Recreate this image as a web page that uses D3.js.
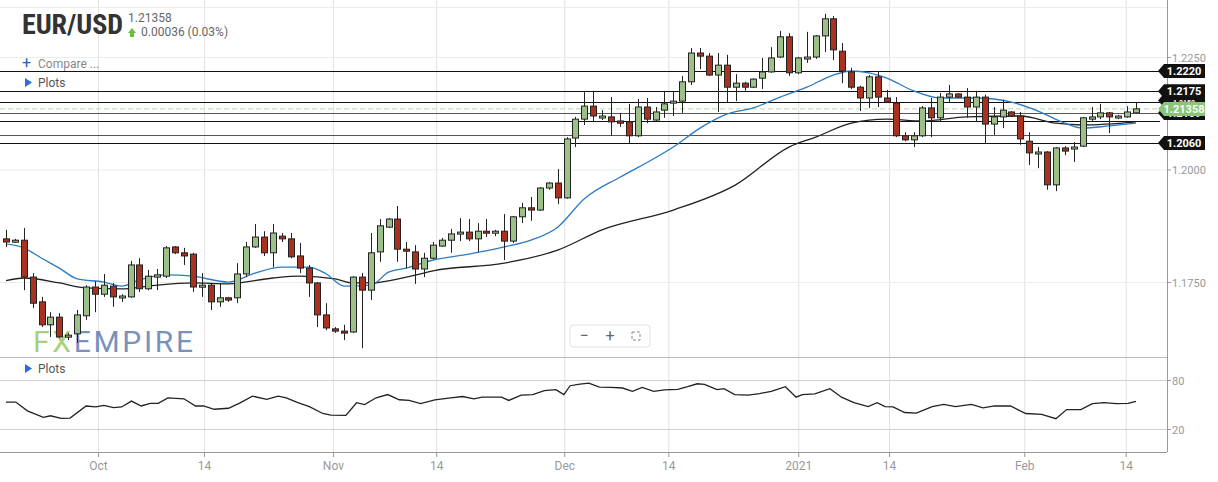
<!DOCTYPE html>
<html><head><meta charset="utf-8">
<script src="https://cdn.jsdelivr.net/npm/d3@7"></script>
<style>body{margin:0;background:#fff;font-family:Roboto,Arial,sans-serif}</style>
</head><body><svg id="c" width="1218" height="482"></svg>
<script>
const opens=[1.1847,1.1840,1.1844,1.1762,1.1707,1.1656,1.1673,1.1629,1.1636,1.1676,1.1740,1.1724,1.1742,1.1716,1.1718,1.1789,1.1736,1.1762,1.1764,1.1829,1.1816,1.1813,1.1740,1.1744,1.1707,1.1716,1.1716,1.1769,1.1829,1.1851,1.1816,1.1853,1.1847,1.1809,1.1782,1.1749,1.1678,1.1647,1.1642,1.1640,1.1762,1.1733,1.1818,1.1873,1.1891,1.1824,1.1818,1.1780,1.1804,1.1831,1.1844,1.1858,1.1862,1.1847,1.1864,1.1860,1.1864,1.1842,1.1896,1.1916,1.1911,1.1960,1.1971,1.1938,1.2071,1.2113,1.2142,1.2116,1.2118,1.2109,1.2107,1.2076,1.2140,1.2111,1.2133,1.2149,1.2153,1.2196,1.2260,1.2253,1.2211,1.2233,1.2184,1.2193,1.2184,1.2204,1.2218,1.2251,1.2296,1.2216,1.2247,1.2251,1.2298,1.2336,1.2264,1.2218,1.2184,1.2160,1.2207,1.2160,1.2149,1.2076,1.2067,1.2076,1.2138,1.2116,1.2162,1.2169,1.2162,1.2140,1.2162,1.2102,1.2118,1.2129,1.2120,1.2064,1.2036,1.2040,1.1967,1.2049,1.2047,1.2053,1.2113,1.2118,1.2127,1.2116,1.2118,1.2127];
const highs=[1.1867,1.1847,1.1871,1.1771,1.1718,1.1684,1.1682,1.1638,1.1689,1.1744,1.1753,1.1769,1.1749,1.1724,1.1798,1.1804,1.1778,1.1780,1.1831,1.1831,1.1827,1.1816,1.1771,1.1749,1.1747,1.1718,1.1793,1.1840,1.1880,1.1864,1.1880,1.1860,1.1860,1.1838,1.1789,1.1751,1.1704,1.1651,1.1656,1.1764,1.1771,1.1860,1.1891,1.1893,1.1920,1.1840,1.1833,1.1816,1.1840,1.1849,1.1869,1.1893,1.1891,1.1882,1.1891,1.1867,1.1902,1.1898,1.1927,1.1940,1.1962,1.1973,1.2002,1.2073,1.2118,1.2173,1.2176,1.2133,1.2162,1.2127,1.2147,1.2158,1.2160,1.2140,1.2176,1.2173,1.2209,1.2271,1.2271,1.2260,1.2260,1.2256,1.2213,1.2196,1.2204,1.2249,1.2273,1.2309,1.2304,1.2251,1.2307,1.2300,1.2347,1.2342,1.2282,1.2227,1.2187,1.2211,1.2220,1.2178,1.2162,1.2084,1.2084,1.2142,1.2160,1.2171,1.2189,1.2171,1.2182,1.2176,1.2167,1.2140,1.2156,1.2131,1.2129,1.2084,1.2051,1.2042,1.2051,1.2053,1.2062,1.2118,1.2140,1.2147,1.2129,1.2122,1.2142,1.2149];
const lows=[1.1829,1.1838,1.1733,1.1693,1.1651,1.1629,1.1627,1.1622,1.1616,1.1667,1.1684,1.1718,1.1696,1.1707,1.1716,1.1729,1.1733,1.1733,1.1760,1.1813,1.1789,1.1729,1.1718,1.1689,1.1696,1.1707,1.1704,1.1762,1.1827,1.1809,1.1784,1.1840,1.1804,1.1771,1.1718,1.1651,1.1644,1.1638,1.1622,1.1638,1.1604,1.1711,1.1796,1.1871,1.1796,1.1782,1.1747,1.1762,1.1802,1.1829,1.1816,1.1842,1.1842,1.1818,1.1851,1.1853,1.1800,1.1838,1.1882,1.1887,1.1909,1.1956,1.1924,1.1936,1.2051,1.2100,1.2107,1.2111,1.2076,1.2096,1.2060,1.2073,1.2104,1.2109,1.2116,1.2120,1.2127,1.2189,1.2224,1.2209,1.2129,1.2151,1.2153,1.2176,1.2182,1.2180,1.2216,1.2249,1.2209,1.2213,1.2238,1.2247,1.2262,1.2244,1.2193,1.2180,1.2131,1.2138,1.2140,1.2149,1.2073,1.2064,1.2051,1.2073,1.2073,1.2107,1.2149,1.2160,1.2116,1.2107,1.2058,1.2078,1.2093,1.2118,1.2056,1.2011,1.2004,1.1956,1.1953,1.2033,1.2018,1.2051,1.2109,1.2113,1.2082,1.2113,1.2116,1.2125];
const closes=[1.1840,1.1844,1.1762,1.1704,1.1656,1.1673,1.1629,1.1633,1.1678,1.1740,1.1724,1.1744,1.1718,1.1720,1.1789,1.1736,1.1764,1.1767,1.1827,1.1816,1.1809,1.1740,1.1744,1.1707,1.1716,1.1711,1.1769,1.1829,1.1851,1.1816,1.1860,1.1847,1.1807,1.1782,1.1749,1.1678,1.1649,1.1642,1.1638,1.1762,1.1733,1.1816,1.1876,1.1891,1.1824,1.1820,1.1780,1.1804,1.1833,1.1844,1.1858,1.1862,1.1847,1.1864,1.1860,1.1864,1.1842,1.1896,1.1916,1.1911,1.1960,1.1971,1.1938,1.2069,1.2113,1.2142,1.2120,1.2120,1.2107,1.2104,1.2076,1.2140,1.2113,1.2129,1.2147,1.2153,1.2196,1.2260,1.2253,1.2211,1.2233,1.2184,1.2193,1.2184,1.2202,1.2218,1.2249,1.2296,1.2216,1.2249,1.2251,1.2298,1.2336,1.2267,1.2220,1.2184,1.2160,1.2207,1.2162,1.2151,1.2076,1.2067,1.2076,1.2138,1.2116,1.2162,1.2169,1.2162,1.2140,1.2162,1.2102,1.2118,1.2133,1.2120,1.2069,1.2038,1.2040,1.1967,1.2049,1.2042,1.2051,1.2116,1.2118,1.2127,1.2118,1.2120,1.2129,1.21358];
const ma20Idx=[0,2,4,6,8,11,13,15,18,21,25,28,31,34,36,38,41,43,45,48,52,56,59,62,65,69,72,75,78,81,84,87,90,93,95,97,99,102,105,109,113,116,119,121,124,127];
const ma20Val=[1.1836,1.1827,1.1804,1.1782,1.1758,1.1751,1.1742,1.1756,1.1767,1.1764,1.1751,1.1771,1.1784,1.1784,1.1769,1.1742,1.1744,1.1773,1.1782,1.1800,1.1813,1.1829,1.1844,1.1873,1.1936,1.1984,1.2016,1.2051,1.2093,1.2124,1.2138,1.2162,1.2184,1.2211,1.2220,1.2216,1.2204,1.2176,1.2160,1.2160,1.2151,1.2131,1.2104,1.2093,1.2098,1.2104];
const ma50Idx=[0,2,6,9,13,16,21,25,30,33,37,39,41,45,48,56,62,67,75,82,88,91,95,99,103,108,114,118,121,127];
const ma50Val=[1.1754,1.1760,1.1749,1.1738,1.1736,1.1742,1.1749,1.1747,1.1760,1.1764,1.1758,1.1749,1.1749,1.1762,1.1776,1.1793,1.1822,1.1867,1.1911,1.1967,1.2051,1.2073,1.2104,1.2113,1.2109,1.2118,1.2120,1.2104,1.2100,1.2107];
const rsiIdx=[0,1.1,2.4,4.2,5,6.2,7.2,9,10.1,11,12.1,13,14.1,15.2,16.2,17.1,18.2,20,21.3,22.2,23.4,25,26.2,27.7,29.3,30.6,31.5,32.8,34.1,35.6,36.5,38.2,39.4,40.3,41.6,42.9,44.2,45.3,46.6,48.2,50,51.3,52.6,53.5,55.7,56.5,57.9,59.2,60.5,61.8,62.7,63.4,64.5,65.5,66.7,68,69.3,70.4,71.5,72.8,74,75.5,76.6,77.7,78.5,79.9,80.7,81.9,83.4,84.7,86,87.6,88.8,89.5,90.9,92.6,93.9,95.3,96.9,97.9,98.8,99.7,101,102.3,104.1,105.4,106.7,108.5,109.8,111.1,112.9,114.6,116.4,118,119.2,120.8,122.1,123.4,124.8,126.1,127];
const rsiVal=[53.6,53.6,42.8,34.8,36.8,33.6,34,48.8,47.6,49.6,46.8,47.6,54.8,48.8,52,52,58.8,57.6,48.8,48.8,44.8,46,52,60.8,56.8,60.8,58.8,52.8,48,39.6,37.6,37.2,52.8,50.4,58.8,62.8,56.4,55.6,51.6,56.4,58.8,60.4,57.6,59.6,59.6,55.6,62,62.8,67.6,68.8,62.8,73.6,75.6,76.8,72,71.6,70.8,66.8,71.6,66.8,68.4,69.2,72.4,76,75.2,68.8,70,62.8,62,64,66.8,72.4,59.6,62.8,63.6,70,59.6,52.8,48,52.8,48,47.6,40.8,40,48,50.8,48,50.8,46.4,48.8,48.8,39.6,38.4,33.2,44.4,44.4,51.6,52.8,51.6,52,54.4];
const levels=[1.2220,1.2175,1.2150,1.2127,1.2109,1.2078,1.2060];
const levelLabels=[[1.2220,"1.2220",0],[1.2175,"1.2175",0],[1.2109,"1.2109",-8],[1.2060,"1.2060",0]];
const lastPrice=1.21358;
const priceTicks=[1.2250,1.2000,1.1750];
const rsiTicks=[80,20];
const dateTickIdx=[10.4,22.3,36.8,48.4,62.8,74.5,89.1,99.3,114.5,125.9];
const dateTickLabels=["Oct","14","Nov","14","Dec","14","2021","14","Feb","14"];

const svg=d3.select("#c");
const x=d3.scaleLinear().domain([0,127]).range([6,1136]);
const y=d3.scaleLinear().domain([1.175,1.225]).range([282.5,57.5]);
const yr=d3.scaleLinear().domain([20,80]).range([429.5,380.5]);
const W=1167;
const g=svg.append("g");
dateTickIdx.forEach(d=>{g.append("line").attr("x1",x(d)).attr("x2",x(d)).attr("y1",0).attr("y2",452).attr("stroke","#e2e2e2");});
priceTicks.forEach(p=>g.append("line").attr("x1",0).attr("x2",W).attr("y1",y(p)).attr("y2",y(p)).attr("stroke","#ececec"));
rsiTicks.forEach(p=>g.append("line").attr("x1",0).attr("x2",W).attr("y1",yr(p)).attr("y2",yr(p)).attr("stroke","#cfcfcf"));
g.append("line").attr("x1",0).attr("x2",W).attr("y1",7.5).attr("y2",7.5).attr("stroke","#ececec");
g.append("line").attr("x1",0).attr("x2",W).attr("y1",357.5).attr("y2",357.5).attr("stroke","#bbb");
g.append("line").attr("x1",0).attr("x2",W).attr("y1",452.5).attr("y2",452.5).attr("stroke","#999");
g.append("line").attr("x1",W+.5).attr("x2",W+.5).attr("y1",0).attr("y2",452).attr("stroke","#999");

const wm=svg.append("text").attr("x",33).attr("y",352).attr("font-size",30).attr("font-family","Roboto, Arial").attr("textLength",160).attr("opacity",0.75);
wm.append("tspan").attr("fill","#8cc152").text("FX");
wm.append("tspan").attr("fill","#4a6ea8").text("EMPIRE");

levels.forEach(l=>svg.append("line").attr("x1",0).attr("x2",1160).attr("y1",Math.round(y(l))+.5).attr("y2",Math.round(y(l))+.5).attr("stroke",l===1.2127||l===1.2078?"#555":"#111").attr("stroke-width",1.2));
svg.append("line").attr("x1",0).attr("x2",1160).attr("y1",y(lastPrice)).attr("y2",y(lastPrice)).attr("stroke","#b9d6ad").attr("stroke-dasharray","5,3");

const line=d3.line().curve(d3.curveMonotoneX);
svg.append("path").attr("d",line(ma50Idx.map((d,i)=>[x(d),y(ma50Val[i])]))).attr("fill","none").attr("stroke","#222").attr("stroke-width",1.3);
svg.append("path").attr("d",line(ma20Idx.map((d,i)=>[x(d),y(ma20Val[i])]))).attr("fill","none").attr("stroke","#2a7bc4").attr("stroke-width",1.3);

const cg=svg.append("g");
opens.forEach((o,i)=>{
  const c=closes[i],cx=Math.round(x(i))+.5,up=c>=o;
  cg.append("line").attr("x1",cx).attr("x2",cx).attr("y1",y(highs[i])).attr("y2",y(lows[i])).attr("stroke","#222");
  const t=y(Math.max(o,c)),b=y(Math.min(o,c));
  cg.append("rect").attr("x",cx-3).attr("y",t).attr("width",6).attr("height",Math.max(2,b-t)).attr("fill",up?"#9dc08b":"#a8321f").attr("stroke","#222").attr("stroke-width",1);
});

svg.append("path").attr("d",d3.line()(rsiIdx.map((d,i)=>[x(d),yr(rsiVal[i])]))).attr("fill","none").attr("stroke","#222").attr("stroke-width",1.3);

priceTicks.forEach(p=>{svg.append("line").attr("x1",W).attr("x2",W+4).attr("y1",y(p)).attr("y2",y(p)).attr("stroke","#999");
 svg.append("text").attr("x",1172).attr("y",y(p)+4).attr("font-size",11).attr("fill","#999").text(p.toFixed(4));});
rsiTicks.forEach(p=>{svg.append("line").attr("x1",W).attr("x2",W+4).attr("y1",yr(p)).attr("y2",yr(p)).attr("stroke","#999");
 svg.append("text").attr("x",1172).attr("y",yr(p)+4).attr("font-size",11).attr("fill","#999").text(p);});
dateTickIdx.forEach((d,i)=>{svg.append("line").attr("x1",x(d)).attr("x2",x(d)).attr("y1",452).attr("y2",457).attr("stroke","#999");
 svg.append("text").attr("x",x(d)).attr("y",470).attr("text-anchor","middle").attr("font-size",12).attr("fill","#999").text(dateTickLabels[i]);});

function badge(v,txt,dy,col,tc,fs){
  const yy=y(v)+dy, x0=1158;
  svg.append("path").attr("d",`M${x0},${yy} L${x0+6},${yy-7} L1205,${yy-7} L1205,${yy+7} L${x0+6},${yy+7} Z`).attr("fill",col);
  svg.append("text").attr("x",1184).attr("y",yy+4).attr("text-anchor","middle").attr("font-size",fs||11).attr("font-weight","bold").attr("fill",tc).text(txt);
}
badge(1.2150,"1.2150",-2,"#111","#fff",7);
levelLabels.forEach(l=>badge(l[0],l[1],l[2],"#111","#fff"));
badge(lastPrice,"1.21358",0,"#8cc47c","#f4fff0");

svg.append("text").attr("x",22).attr("y",34).attr("font-size",28).attr("font-weight","bold").attr("fill","#333").attr("font-family","Roboto Condensed, Roboto, Arial").attr("textLength",101).text("EUR/USD");
svg.append("text").attr("x",128).attr("y",22).attr("font-size",12).attr("fill","#666").text("1.21358");
svg.append("path").attr("d","M128,33 L132,28 L136,33 L134,33 L134,37 L130,37 L130,33 Z").attr("fill","#6cbf3a");
svg.append("text").attr("x",141).attr("y",36).attr("font-size",12).attr("fill","#666").text("0.00036 (0.03%)");
svg.append("text").attr("x",22).attr("y",68).attr("font-size",16).attr("fill","#2060c0").text("+");
svg.append("text").attr("x",38).attr("y",68).attr("font-size",12).attr("fill","#888").text("Compare ...");
svg.append("path").attr("d","M25,78 L32,82.5 L25,87 Z").attr("fill","#2a6fd0");
svg.append("text").attr("x",38).attr("y",87).attr("font-size",12).attr("fill","#555").text("Plots");
svg.append("path").attr("d","M25,364 L32,368.5 L25,373 Z").attr("fill","#2a6fd0");
svg.append("text").attr("x",38).attr("y",373).attr("font-size",12).attr("fill","#555").text("Plots");

const zc=svg.append("g");
zc.append("rect").attr("x",570).attr("y",325).attr("width",80).attr("height",22).attr("rx",3).attr("fill","#fff").attr("stroke","#e0e0e0");
zc.append("text").attr("x",584).attr("y",341).attr("text-anchor","middle").attr("font-size",16).attr("fill","#666").text("−");
zc.append("text").attr("x",610).attr("y",341).attr("text-anchor","middle").attr("font-size",16).attr("fill","#666").text("+");
zc.append("rect").attr("x",632).attr("y",332).attr("width",8).attr("height",8).attr("fill","none").attr("stroke","#888").attr("stroke-dasharray","3,2");
</script></body></html>
